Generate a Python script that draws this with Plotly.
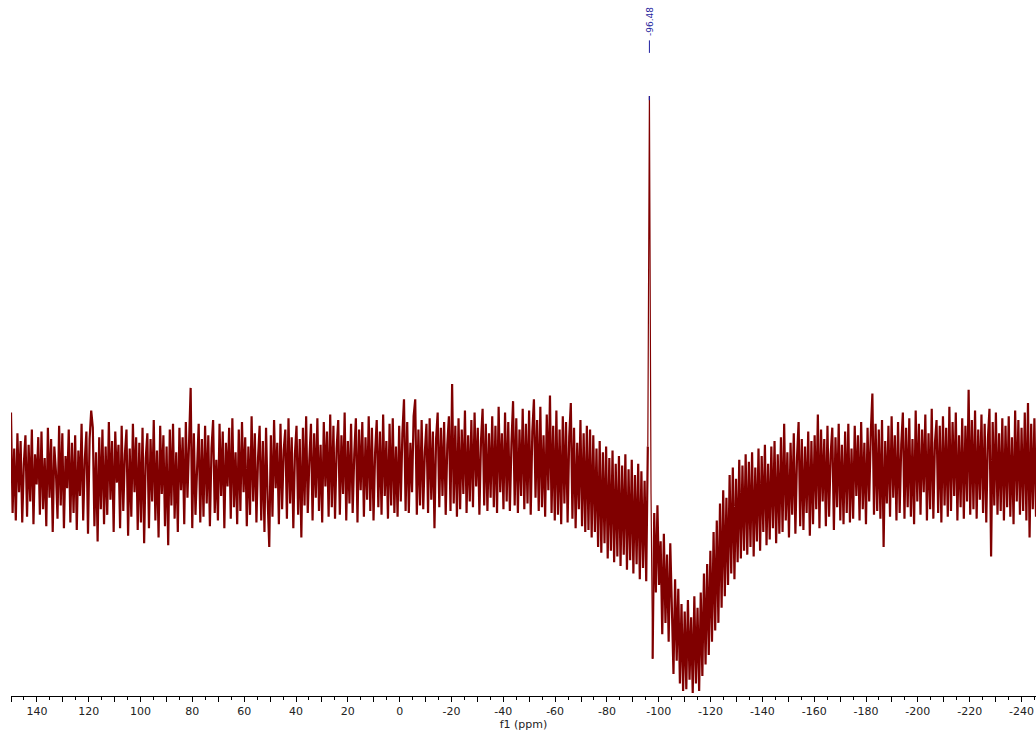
import numpy as np
import plotly.graph_objects as go

# ---- data ----
ppm_start = 150.0
ppm_end = -245.6
peak_label = "-96.48"

intensity = [
    33, -20, 14, -24, 22, -9, 18, -25, 6, 21, -22, 16, -14, 24, -26, 11, -5, 20, -21, 23,
    -18, 9, -27, 25, -12, 19, -30, 15, 2, -23, 26, -16, 22, -28, 10, -7, 24, -25, 17, -20,
    21, -29, 13, -11, 27, -24, 8, 23, -31, 19, 34, 25, -27, 12, -35, 20, -18, 24, -26, 15,
    -21, 28, -13, 18, -30, 23, -4, 16, -28, 26, -19, 11, 24, -32, 14, -22, 27, -9, 20, -29,
    17, -25, 25, -36, 9, 22, -28, 19, -14, 29, -24, 13, -33, 26, -10, 21, -27, 15, -37, 24,
    -16, 27, -23, 12, -30, 25, -8, 20, -26, 28, -12, 16, 46, -28, 22, -21, 10, 27, -25, 19,
    -22, 26, -15, 21, -27, 14, 29, -20, 8, -24, 27, -11, 23, -28, 17, -6, 25, -23, 30, -17,
    12, -26, 24, -19, 28, -9, 20, -27, 15, -21, 31, -14, 22, -25, 9, 26, -24, 18, -30, 25,
    -13, -38, 21, -22, 29, -7, 17, -26, 27, -18, 13, 24, -23, 30, -15, 20, -28, 11, 26, -21,
    19, -33, 25, -16, 31, -20, 8, 27, -24, 22, -12, 30, -19, 16, -25, 28, -6, 23, -22, 32,
    -17, 26, -23, 14, 29, -21, 21, -10, 33, -24, 18, -15, 27, -20, 11, 30, -25, 24, -8, 28,
    -22, 20, -13, 31, -19, 25, -24, 12, 29, -17, 23, -21, 32, -11, 18, -23, 27, -16, 30, -20,
    15, -22, 26, -14, 22, 40, -19, 28, -20, 17, -9, 31, 40, -21, 24, -16, 29, -18, 12, 27,
    -20, 30, -13, 23, -28, 19, 33, -17, 25, -11, 28, -21, 16, 31, -19, 48, -15, 26, -22, 30,
    -18, 24, -10, 34, -20, 21, -14, 29, -17, 33, -6, 25, -21, 18, 35, -16, 27, -19, 22, -12,
    31, -17, 26, -20, 36, -9, 22, -18, 33, -14, 28, -19, 17, 39, -16, 30, -20, 24, -11, 35,
    -18, 27, -15, 34, -21, 23, 40, -12, 29, -19, 36, -17, 21, -22, 32, -8, 42, -20, 26, -24,
    34, -21, 24, -26, 31, -15, 28, -25, 20, 38, -23, 25, -28, 17, -18, 29, -27, 22, -30, 26,
    -29, 24, -33, 21, -30, 14, -38, 18, -41, 12, -36, 15, -44, 9, -40, 13, -46, 6, -43, 10,
    -48, 5, -42, 11, -50, 3, -45, 8, -52, 0, -47, 6, -55, 2, -49, -3, -56, 15, 200, -10,
    -97, -20, -62, -16, -58, -35, -84, -31, -78, -42, -88, -36, -70, -105, -55, -98, -60, -110, -68, -114,
    -72, -113, -66, -108, -75, -115, -64, -110, -70, -114, -62, -106, -52, -100, -47, -95, -40, -88, -30, -82,
    -24, -78, -15, -70, -8, -64, -12, -58, 0, -52, 4, -55, -2, -46, 8, -44, 5, -40, 11, -42,
    7, -38, 12, -43, 4, -35, 14, -40, 10, -30, 16, -37, 6, -34, 15, -28, 18, -36, 11, -31,
    20, -30, 27, -24, 12, -33, 17, -21, 22, -31, 9, 28, -27, 19, -29, 15, -20, 23, -32, 18,
    -26, 21, -18, 32, -28, 24, -14, 19, -27, 26, -22, 11, 25, -29, 20, -17, 27, -24, 16, -26,
    23, -20, 27, -25, 14, -23, 26, -11, 21, -24, 28, -18, 17, -26, 25, -14, 22, 43, -21, 27,
    -19, 24, -23, 29, -38, 18, -15, 26, -22, 31, -12, 21, -24, 28, -20, 16, 33, -23, 25, -17,
    30, -22, 19, -26, 34, -14, 27, -21, 24, -9, 32, -24, 22, -18, 35, -23, 17, 29, -20, 26,
    -25, 31, -16, 25, -22, 36, -19, 28, -11, 33, -24, 21, -17, 30, -23, 26, -14, 45, -21, 29,
    -18, 34, -23, 24, -13, 32, -20, 27, -25, 19, 35, -43, 28, -16, 33, -21, 22, -19, 30, -24,
    26, -17, 31, -22, 20, -26, 34, -14, 29, -21, 25, -19, 33, -24, 38, -33, 27, -18, 30, -22,
]

ppm = np.linspace(ppm_start, ppm_end, len(intensity))
y = np.array(intensity, dtype=float)
ipk = int(np.argmax(y))

major = [v for v in range(150, -250, -10)]
major_text = [str(v) if v % 20 == 0 else "" for v in major]

RED = "#800000"
BLUE = "#1f1fa0"

fig = go.Figure()
# noisy baseline drawn heavier, the sharp peak drawn thin
a, b = ipk - 1, ipk + 2
for sl, w in [(slice(0, a + 1), 2.2), (slice(a, b + 1), 1.2), (slice(b, None), 2.2)]:
    fig.add_trace(go.Scatter(x=ppm[sl], y=y[sl], mode="lines",
                             line=dict(color=RED, width=w),
                             hoverinfo="skip", showlegend=False))
# blue tip of the labelled peak
fig.add_trace(go.Scatter(x=[ppm[ipk], ppm[ipk]], y=[y[ipk], y[ipk] - 2.2], mode="lines",
                         line=dict(color=BLUE, width=1.2),
                         hoverinfo="skip", showlegend=False))

fig.add_annotation(x=ppm[ipk], xref="x", y=0.969, yref="paper", text=peak_label,
                   textangle=-90, showarrow=False, yanchor="middle",
                   font=dict(family="DejaVu Sans", size=9, color=BLUE))
fig.add_shape(type="line", xref="x", yref="paper", x0=ppm[ipk], x1=ppm[ipk],
              y0=0.924, y1=0.942, line=dict(color=BLUE, width=1))

fig.update_layout(
    width=1036, height=734,
    margin=dict(l=11, r=0, t=0, b=38),
    paper_bgcolor="white", plot_bgcolor="white",
    xaxis=dict(range=[ppm_start, ppm_end], showgrid=False, zeroline=False,
               showline=True, linecolor="black", linewidth=1,
               ticks="outside", ticklen=5, tickcolor="black", tickwidth=1,
               tickmode="array", tickvals=major, ticktext=major_text,
               tickfont=dict(family="DejaVu Sans", size=11, color="#222"),
               minor=dict(dtick=5, tick0=0, ticks="outside", ticklen=3,
                          tickcolor="black", showgrid=False),
               title=dict(text="f1 (ppm)", standoff=2,
                          font=dict(family="DejaVu Sans", size=11, color="#222"))),
    yaxis=dict(range=[-116.6, 250.7], visible=False, showgrid=False, zeroline=False),
)

fig.write_html("out.html")
